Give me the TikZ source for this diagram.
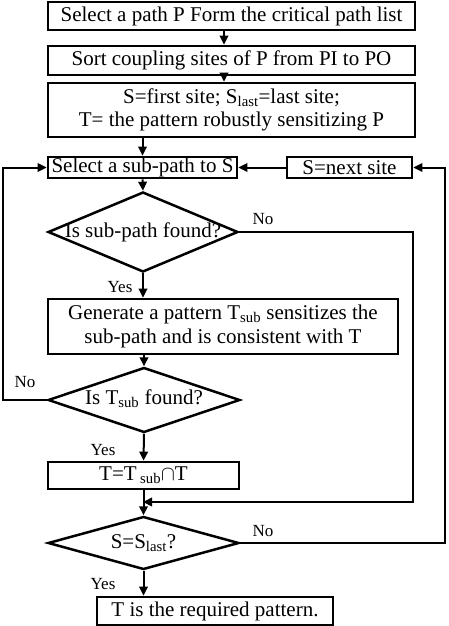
\documentclass[tikz,border=0pt]{standalone}
\usepackage{fontspec}
\setmainfont{Liberation Serif}
\usetikzlibrary{shapes.geometric,arrows.meta}

\newcommand\boxfont{\fontsize{21}{21}\selectfont}
\newcommand\tagfont{\fontsize{17}{17}\selectfont}

\tikzset{
  stepbox/.style={draw, line width=2.7pt, inner sep=0pt, align=center, font=\boxfont},
  decision/.style={draw, diamond, line width=2.5pt, inner sep=0pt, font=\boxfont},
  flow/.style={line width=2pt, -{Triangle[length=9pt,width=8.5pt]}},
  tag/.style={inner sep=0pt, font=\tagfont}
}

\begin{document}
\begin{tikzpicture}[x=1pt, y=-1pt]
\useasboundingbox (0,0) rectangle (448,626);
% boxes
\node[stepbox, minimum width=367pt, minimum height=28pt] (pick) at (231.5,16) {Select a path P Form the critical path list};
\node[stepbox, minimum width=367pt, minimum height=29pt] (sort) at (231.5,60.5) {Sort coupling sites of P from PI to PO};
\node[stepbox, minimum width=367pt, minimum height=54pt] (init) at (231.5,110) {S=first site; S\textsubscript{last}=last site;\\[2pt]T= the pattern robustly sensitizing P};
\node[stepbox, minimum width=189pt, minimum height=21pt] (sub) at (142.5,167.5) {Select a sub-path to S};
\node[stepbox, minimum width=125pt, minimum height=21pt] (next) at (349.5,167.5) {S=next site};
\node[decision, minimum width=190pt, minimum height=80pt] (found) at (143,232) {\makebox[0pt]{Is sub-path found?}};
\node[stepbox, minimum width=350pt, minimum height=55pt] (gen) at (223,326.5) {Generate a pattern T\textsubscript{sub} sensitizes the\\[3pt]sub-path and is consistent with T};
\node[decision, minimum width=192pt, minimum height=65pt] (tfound) at (144,400) {\makebox[0pt]{\raisebox{6pt}{Is T\textsubscript{sub} found?}}};
\node[stepbox, minimum width=191pt, minimum height=27pt] (merge) at (143.5,475.5) {T=T\,\textsubscript{sub}$\cap$T};
\node[decision, minimum width=191pt, minimum height=53pt] (last) at (143.5,543) {\makebox[0pt]{S=S\textsubscript{last}?}};
\node[stepbox, minimum width=236pt, minimum height=28pt] (done) at (215,611) {T is the required pattern.};
% corners
\coordinate (join) at (143,502);
\coordinate (eastA) at (413,502);
\coordinate (westB) at (3,167.5);
\coordinate (eastC) at (445,167.5);
% arrows
\draw[flow] ([xshift=-7.5pt]pick.south) -- ([xshift=-7.5pt]sort.north);
\draw[flow] ([xshift=-7.5pt]sort.south) -- ([xshift=-7.5pt]init.north);
\draw[flow] (init.south -| sub.north) -- (sub.north);
\draw[flow] (sub.south) -- (found.north);
\draw[flow] (found.south) -- (found.south |- gen.north);
\draw[flow] (gen.south -| tfound.north) -- (tfound.north);
\draw[flow] (tfound.south) -- (merge.north);
\draw[flow] (merge.south) -- (last.north);
\draw[flow] (last.south) -- (last.south |- done.north);
\draw[flow] (next.west) -- (sub.east);
\draw[flow] (found.east) -| (eastA) -- (join);
\draw[flow] (tfound.west) -| (westB) -- (sub.west);
\draw[flow] (last.east) -| (eastC) -- (next.east);
% labels
\node[tag] (noA) at (263,219) {No};
\node[tag] (yesA) at (120,287) {Yes};
\node[tag] (noB) at (25,382) {No};
\node[tag] (yesB) at (103,450) {Yes};
\node[tag] (noC) at (263,531) {No};
\node[tag] (yesC) at (103,584) {Yes};
\end{tikzpicture}
\end{document}
